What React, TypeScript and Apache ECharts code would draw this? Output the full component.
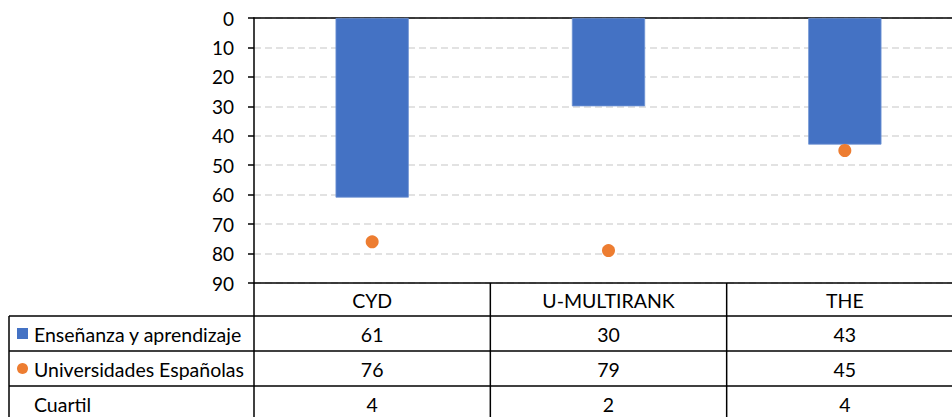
import React, { useEffect, useRef } from "react";
import * as echarts from "echarts";

const categories = ["CYD", "U-MULTIRANK", "THE"];
const ensenanza = [61, 30, 43];
const universidades = [76, 79, 45];
const cuartil = [4, 2, 4];
const rowNames = ["Enseñanza y aprendizaje", "Universidades Españolas", "Cuartil"];
const yMin = 0;
const yMax = 90;
const yInterval = 10;

const BLUE = "#4472C4";
const ORANGE = "#ED7D31";
const FONT = "Lato";
const FS = 19;
const TFS = 19.5;
const CHART_W = 975;

export default function App() {
  const ref = useRef<HTMLDivElement>(null);
  useEffect(() => {
    document.body.style.margin = "0";
    const chart = echarts.init(ref.current!, null, { renderer: "svg" });
    chart.setOption({
      animation: false,
      textStyle: { fontFamily: FONT },
      grid: { left: 254, top: 18, width: 709, height: 265, containLabel: false },
      xAxis: {
        type: "category",
        data: categories,
        position: "top",
        axisLine: { onZero: false, lineStyle: { color: "#000", width: 1.5 } },
        axisTick: { show: false },
        axisLabel: { show: false },
        splitLine: { show: false },
      },
      yAxis: {
        type: "value",
        inverse: true,
        min: yMin,
        max: yMax,
        interval: yInterval,
        axisLine: { show: true, lineStyle: { color: "#000", width: 1.5 } },
        axisTick: { show: true, length: 6, lineStyle: { color: "#000", width: 1.5 } },
        axisLabel: { color: "#000", fontSize: FS, margin: 20, fontFamily: FONT },
        splitLine: { show: true, lineStyle: { color: "#d9d9d9", width: 1.5, type: [7, 4] } },
      },
      series: [
        {
          name: rowNames[0],
          type: "bar",
          data: ensenanza,
          barWidth: "31%",
          itemStyle: { color: BLUE, borderColor: "#6f93d3", borderWidth: 0.8 },
        },
        {
          name: rowNames[1],
          type: "scatter",
          data: universidades,
          symbol: "circle",
          symbolSize: 13,
          itemStyle: { color: ORANGE, opacity: 1 },
          z: 5,
        },
      ],
    });

    const xs = categories.map((c) => chart.convertToPixel({ xAxisIndex: 0 }, c) as number);
    const band = xs.length > 1 ? xs[1] - xs[0] : 236;
    const gridLeft = xs[0] - band / 2;
    const gridRight = xs[xs.length - 1] + band / 2;
    const top = chart.convertToPixel({ yAxisIndex: 0 }, yMax) as number;
    const rowEdges = [top, top + 33, top + 68, top + 103, top + 138];
    const tableLeft = 9;
    const lineStyle = { stroke: "#000", lineWidth: 1.5 };
    const textStyle = (x: number, y: number, t: string, align = "center") => ({
      type: "text",
      x,
      y,
      style: {
        text: t,
        fill: "#000",
        fontSize: TFS,
        fontFamily: FONT,
        align,
        verticalAlign: "middle",
      },
    });

    const els: any[] = [];
    els.push({ type: "line", shape: { x1: gridLeft, y1: rowEdges[0], x2: gridRight, y2: rowEdges[0] }, style: lineStyle });
    for (let r = 1; r < rowEdges.length; r++) {
      els.push({ type: "line", shape: { x1: tableLeft, y1: rowEdges[r], x2: gridRight, y2: rowEdges[r] }, style: lineStyle });
    }
    els.push({ type: "line", shape: { x1: tableLeft, y1: rowEdges[1], x2: tableLeft, y2: rowEdges[4] }, style: lineStyle });
    for (let i = 0; i <= categories.length; i++) {
      const x = gridLeft + i * band;
      els.push({ type: "line", shape: { x1: x, y1: rowEdges[0], x2: x, y2: rowEdges[4] }, style: lineStyle });
    }
    categories.forEach((c, i) => {
      els.push(textStyle(xs[i], (rowEdges[0] + rowEdges[1]) / 2 + 1, c));
    });
    const rows = [ensenanza, universidades, cuartil];
    rows.forEach((vals, r) => {
      const cy = (rowEdges[r + 1] + rowEdges[r + 2]) / 2 + 1;
      els.push(textStyle(34, cy, rowNames[r], "left"));
      vals.forEach((v, i) => els.push(textStyle(xs[i], cy, String(v))));
    });
    const cy0 = (rowEdges[1] + rowEdges[2]) / 2;
    els.push({ type: "rect", shape: { x: 17, y: cy0 - 5.5, width: 11, height: 11 }, style: { fill: BLUE } });
    const cy1 = (rowEdges[2] + rowEdges[3]) / 2;
    els.push({ type: "circle", shape: { cx: 22.5, cy: cy1, r: 5.5 }, style: { fill: ORANGE } });

    chart.setOption({ graphic: els });
    return () => chart.dispose();
  }, []);
  return (
    <div style={{ width: 952, height: 417, overflow: "hidden", position: "relative" }}>
      <div ref={ref} style={{ width: CHART_W, height: 417 }} />
    </div>
  );
}
